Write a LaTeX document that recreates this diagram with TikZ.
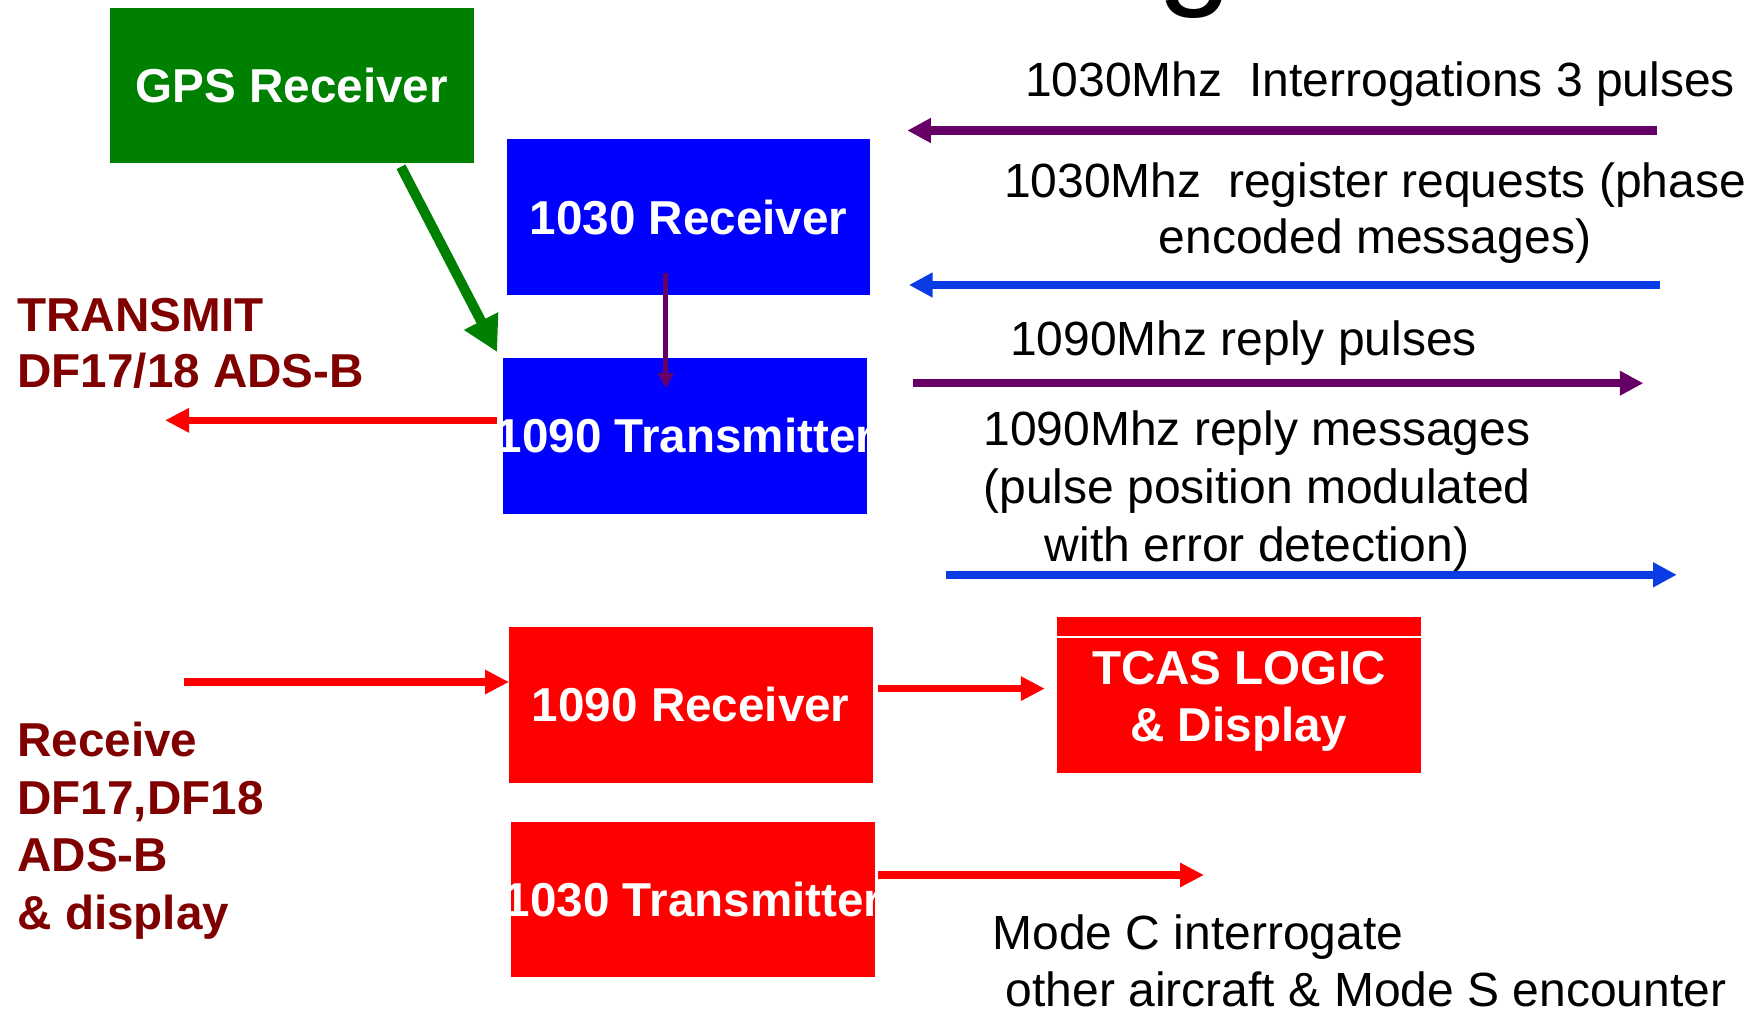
\documentclass[tikz,border=0pt]{standalone}
\usepackage{fontspec}
\setmainfont{Liberation Sans}
\usetikzlibrary{arrows.meta}
\definecolor{gpsgreen}{RGB}{0,128,0}
\definecolor{boxblue}{RGB}{0,0,255}
\definecolor{boxred}{RGB}{255,0,0}
\definecolor{darkred}{RGB}{128,0,0}
\definecolor{sigpurple}{RGB}{102,0,102}
\definecolor{sigblue}{RGB}{10,60,230}
\begin{document}
\begin{tikzpicture}[x=1pt,y=-1pt,
  blk/.style={rectangle, minimum width=363.5pt, minimum height=155.7pt, inner sep=0pt, outer sep=0pt, text=white, font=\fontsize{47.6}{57}\selectfont\bfseries},
  lbl/.style={inner sep=0pt, outer sep=0pt, font=\fontsize{48}{57}\selectfont},
  redlbl/.style={inner sep=0pt, outer sep=0pt, text=darkred, align=left, anchor=base west},
  sig/.style={line width=8pt, -{Triangle[length=23.5pt,width=23.5pt]}},
  redarr/.style={color=boxred, line width=7.5pt, -{Triangle[length=24pt,width=23pt]}},
]
\useasboundingbox (0,0) rectangle (1752,1014);
\clip (0,0) rectangle (1752,1014);

% remnant of the title above the page
\node[lbl, anchor=base, font=\fontsize{135}{135}\selectfont] (title) at (1195,-9) {g};

% boxes
\node[blk, fill=gpsgreen] (gps) at (291.75,85.45) {\makebox[0pt]{GPS Receiver}};
\node[blk, fill=boxblue] (rx1030) at (688.45,217.25) {\makebox[0pt]{1030 Receiver}};
\node[blk, fill=boxblue] (tx1090) at (685.05,435.95) {\makebox[0pt]{1090 Transmitter}};
\node[blk, fill=boxred] (rx1090) at (690.75,704.8) {\makebox[0pt]{1090 Receiver}};
\node[blk, fill=boxred] (tx1030) at (693.1,899.5) {\makebox[0pt]{1030 Transmitter}};
\node[blk, fill=boxred] (tcas) at (1238.85,694.75) {};
\draw[white, line width=1.2pt] ([yshift=-20pt]tcas.north west) -- ([yshift=-20pt]tcas.north east);
\node[inner sep=0pt, text=white, font=\fontsize{47.6}{57.4}\selectfont\bfseries, align=center, anchor=base] (tcastxt) at ([yshift=-46.65pt]tcas.center) {TCAS LOGIC\\\& Display};

% left labels
\node[redlbl, font=\fontsize{47.6}{56.7}\selectfont\bfseries] (txlbl) at (17.5,387.7) {TRANSMIT\\DF17/18 ADS-B};
\node[redlbl, font=\fontsize{47.6}{57.8}\selectfont\bfseries] (rxlbl) at (17.5,929.7) {Receive\\DF17,DF18\\ADS-B\\\& display};

% right labels
\node[lbl, anchor=base west] (l1) at (1025.2,96.4) {1030Mhz\ \ Interrogations 3 pulses};
\node[lbl, anchor=base, align=center, font=\fontsize{48}{56}\selectfont] (l2) at (1375,253) {1030Mhz\ \ register requests (phase\\encoded messages)};
\node[lbl, anchor=base west] (l3) at (1010,355) {1090Mhz reply pulses};
\node[lbl, anchor=base, align=center, font=\fontsize{48}{58}\selectfont] (l4) at (1257,561.5) {1090Mhz reply messages\\(pulse position modulated\\with error detection)};
\node[lbl, anchor=base west, align=left, font=\fontsize{48}{56.8}\selectfont] (l5) at (992.5,1006.6) {Mode C interrogate\\\hspace*{0.28em}other aircraft \& Mode S encounter};

% signal arrows
\coordinate (a1s) at (1656.5,130.5); \coordinate (a1e) at (907.3,130.5);
\coordinate (a2s) at (1659.5,285);   \coordinate (a2e) at (909,285);
\coordinate (a3s) at (912.5,383.2);  \coordinate (a3e) at (1643.3,383.2);
\coordinate (a4s) at (945.6,574.8);  \coordinate (a4e) at (1676.7,574.8);
\draw[sig, color=sigpurple] (a1s) -- (a1e);
\draw[sig, color=sigblue] (a2s) -- (a2e);
\draw[sig, color=sigpurple] (a3s) -- (a3e);
\draw[sig, color=sigblue] (a4s) -- (a4e);

% internal connectors
\draw[gpsgreen, line width=10pt, -{Triangle[length=35pt,width=36pt]}] ([xshift=109.25pt,yshift=-3.5pt]gps.south) -- ([xshift=-6.1pt,yshift=6pt]tx1090.north west);
\draw[sigpurple, line width=5pt, -{Triangle[length=15pt,width=15pt]}] ([xshift=-22.65pt,yshift=21.7pt]rx1030.south) -- ([xshift=-19.25pt,yshift=-30pt]tx1090.north);

% red arrows
\coordinate (tL) at (165,420.3);
\draw[redarr] ([xshift=-6.4pt,yshift=15.65pt]tx1090.west) -- (tL);
\coordinate (rL) at (183.7,682);
\draw[redarr] (rL) -- ([yshift=22.8pt]rx1090.west);
\draw[redarr] ([xshift=5.5pt,yshift=16.2pt]rx1090.east) -- ([xshift=-12.3pt,yshift=6.15pt]tcas.west);
\coordinate (mE) at (1204,875);
\draw[redarr] ([xshift=3.5pt,yshift=24.5pt]tx1030.east) -- (mE);
\end{tikzpicture}
\end{document}
